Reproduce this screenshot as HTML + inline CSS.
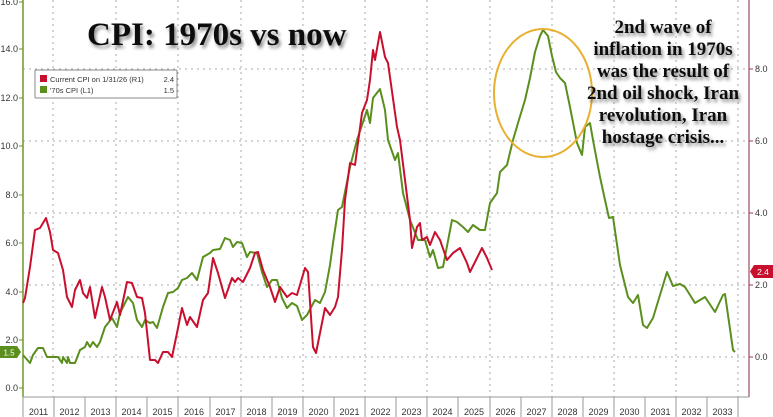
<!DOCTYPE html>
<html><head><meta charset="utf-8"><style>
html,body{margin:0;padding:0;background:#fff;}
svg{display:block;}
.t{font-family:"Liberation Sans",sans-serif;font-size:9px;fill:#333;}
.big{font-family:"Liberation Serif",serif;font-weight:bold;}
</style></head><body>
<svg width="773" height="417" viewBox="0 0 773 417" xmlns="http://www.w3.org/2000/svg">
<defs><filter id="sh" x="-10%" y="-10%" width="130%" height="140%"><feDropShadow dx="2" dy="3" stdDeviation="1.6" flood-color="#000" flood-opacity="0.45"/></filter></defs>
<rect width="773" height="417" fill="#fff"/>
<g stroke="#aaa" stroke-width="1" stroke-dasharray="2,4" fill="none">
<line x1="23" y1="69" x2="749" y2="69"/><line x1="23" y1="141" x2="749" y2="141"/><line x1="23" y1="213" x2="749" y2="213"/><line x1="23" y1="285" x2="749" y2="285"/><line x1="23" y1="357" x2="749" y2="357"/>
<line x1="53" y1="0" x2="53" y2="397"/><line x1="116" y1="0" x2="116" y2="397"/><line x1="178" y1="0" x2="178" y2="397"/><line x1="241" y1="0" x2="241" y2="397"/><line x1="303" y1="0" x2="303" y2="397"/><line x1="365" y1="0" x2="365" y2="397"/><line x1="427" y1="0" x2="427" y2="397"/><line x1="490" y1="0" x2="490" y2="397"/><line x1="552" y1="0" x2="552" y2="397"/><line x1="614" y1="0" x2="614" y2="397"/><line x1="676" y1="0" x2="676" y2="397"/><line x1="738" y1="0" x2="738" y2="397"/>
</g>
<!-- axes -->
<line x1="23" y1="0" x2="23" y2="397" stroke="#6a9a2a" stroke-width="1.5"/>
<line x1="749" y1="0" x2="749" y2="397" stroke="#b07080" stroke-width="1.5"/>
<line x1="23" y1="397" x2="749" y2="397" stroke="#999" stroke-width="1"/>
<g stroke="#6a9a2a" stroke-width="1"><line x1="19" y1="2" x2="23" y2="2"/><line x1="19" y1="49" x2="23" y2="49"/><line x1="19" y1="98" x2="23" y2="98"/><line x1="19" y1="146" x2="23" y2="146"/><line x1="19" y1="195" x2="23" y2="195"/><line x1="19" y1="243" x2="23" y2="243"/><line x1="19" y1="292" x2="23" y2="292"/><line x1="19" y1="340" x2="23" y2="340"/><line x1="19" y1="388" x2="23" y2="388"/></g>
<g stroke="#b03050" stroke-width="1"><line x1="749" y1="69" x2="753" y2="69"/><line x1="749" y1="141" x2="753" y2="141"/><line x1="749" y1="213" x2="753" y2="213"/><line x1="749" y1="285" x2="753" y2="285"/><line x1="749" y1="357" x2="753" y2="357"/></g>
<g class="t" text-anchor="end">
<text x="18" y="5">16.0</text><text x="18" y="52">14.0</text><text x="18" y="101">12.0</text><text x="18" y="149">10.0</text><text x="18" y="198">8.0</text><text x="18" y="246">6.0</text><text x="18" y="295">4.0</text><text x="18" y="343">2.0</text><text x="18" y="391">0.0</text>
</g>
<g class="t"><text x="755" y="72">8.0</text><text x="755" y="144">6.0</text><text x="755" y="216">4.0</text><text x="755" y="288">2.0</text><text x="755" y="360">0.0</text></g>
<g stroke="#999" stroke-width="1">
<line x1="23" y1="397" x2="23" y2="417"/><line x1="54" y1="397" x2="54" y2="417"/><line x1="85" y1="397" x2="85" y2="417"/><line x1="116" y1="397" x2="116" y2="417"/><line x1="147" y1="397" x2="147" y2="417"/><line x1="178" y1="397" x2="178" y2="417"/><line x1="210" y1="397" x2="210" y2="417"/><line x1="241" y1="397" x2="241" y2="417"/><line x1="272" y1="397" x2="272" y2="417"/><line x1="303" y1="397" x2="303" y2="417"/><line x1="334" y1="397" x2="334" y2="417"/><line x1="365" y1="397" x2="365" y2="417"/><line x1="396" y1="397" x2="396" y2="417"/><line x1="427" y1="397" x2="427" y2="417"/><line x1="458" y1="397" x2="458" y2="417"/><line x1="490" y1="397" x2="490" y2="417"/><line x1="521" y1="397" x2="521" y2="417"/><line x1="552" y1="397" x2="552" y2="417"/><line x1="583" y1="397" x2="583" y2="417"/><line x1="614" y1="397" x2="614" y2="417"/><line x1="645" y1="397" x2="645" y2="417"/><line x1="676" y1="397" x2="676" y2="417"/><line x1="707" y1="397" x2="707" y2="417"/><line x1="738" y1="397" x2="738" y2="417"/>
</g>
<g class="t" text-anchor="middle">
<text x="38.5" y="415">2011</text><text x="69.5" y="415">2012</text><text x="100.5" y="415">2013</text><text x="131.5" y="415">2014</text><text x="162.5" y="415">2015</text><text x="194" y="415">2016</text><text x="225.5" y="415">2017</text><text x="256.5" y="415">2018</text><text x="287.5" y="415">2019</text><text x="318.5" y="415">2020</text><text x="349.5" y="415">2021</text><text x="380.5" y="415">2022</text><text x="411.5" y="415">2023</text><text x="442.5" y="415">2024</text><text x="474" y="415">2025</text><text x="505.5" y="415">2026</text><text x="536.5" y="415">2027</text><text x="567.5" y="415">2028</text><text x="598.5" y="415">2029</text><text x="629.5" y="415">2030</text><text x="660.5" y="415">2031</text><text x="691.5" y="415">2032</text><text x="722.5" y="415">2033</text>
</g>
<!-- green series -->
<polyline fill="none" stroke="#5a8f1e" stroke-width="2" stroke-linejoin="round" points="23,355 30,363 33,355 38,348 43,348 47,357 58,357 62,363 63,357 67,363 68,357 70,363 75,363 80,350 85,347 87,342 90,347 93,342 97,347 100,342 105,327 112,318 117,327 120,313 125,303 128,297 133,303 137,320 142,327 145,320 150,323 153,322 157,328 163,307 168,293 173,292 178,288 182,280 187,278 192,273 197,280 203,257 210,253 213,250 220,249 225,238 230,240 233,247 237,242 242,243 247,257 250,252 257,253 262,272 267,287 272,280 277,280 282,298 287,308 292,303 297,306 302,320 307,315 315,300 320,303 325,292 330,265 333,243 338,210 342,207 350,167 357,140 367,110 370,123 373,98 380,89 385,110 388,140 395,160 398,153 403,193 410,220 418,240 425,240 430,257 433,250 438,268 443,267 452,220 457,222 463,227 468,232 473,225 480,230 485,230 490,203 497,193 500,172 507,165 513,140 518,123 525,100 530,78 535,52 540,36 543,30 548,36 552,56 556,72 560,78 565,83 570,107 577,143 582,155 585,127 590,123 593,140 600,177 605,200 609,218 613,217 620,265 628,297 633,303 638,295 643,325 647,328 653,318 667,272 673,286 680,284 685,287 695,303 705,297 715,312 723,295 725,294 733,350 735,352"/>
<!-- red series -->
<polyline fill="none" stroke="#c8102e" stroke-width="2" stroke-linejoin="round" points="23,303 25,298 30,267 35,230 40,228 46,218 50,232 53,250 58,253 63,270 67,297 72,307 75,290 80,280 83,293 87,298 90,287 95,318 102,287 105,297 110,320 117,302 120,315 127,282 132,283 137,297 142,298 145,313 150,360 155,360 158,363 163,352 168,352 172,357 177,333 182,308 187,325 190,317 197,327 203,300 208,293 213,258 218,273 225,298 232,278 235,282 238,278 243,282 250,268 255,253 258,252 263,270 270,287 275,302 280,287 287,297 292,293 297,295 305,268 308,272 313,347 316,353 320,333 325,308 330,315 335,307 338,297 342,250 345,200 350,163 355,165 362,113 367,100 370,80 373,50 375,60 380,32 385,57 388,63 397,127 400,140 405,180 410,220 412,248 417,227 420,223 422,240 427,237 430,245 435,232 440,240 447,260 453,253 460,248 467,263 470,272 475,262 482,248 487,258 492,270"/>
<!-- ellipse -->
<ellipse cx="543" cy="93" rx="49" ry="64" fill="none" stroke="#e8b030" stroke-width="2"/>
<!-- legend -->
<rect x="35" y="70" width="142" height="28" fill="#fff" stroke="#888" stroke-width="1" rx="1"/>
<rect x="40" y="75" width="7" height="7" fill="#c8102e"/>
<rect x="40" y="86" width="7" height="7" fill="#5a8f1e"/>
<text class="t" x="50" y="82" style="font-size:7.5px">Current CPI on 1/31/26 (R1)</text>
<text class="t" x="174" y="82" text-anchor="end" style="font-size:7.5px">2.4</text>
<text class="t" x="50" y="93" style="font-size:7.5px">'70s CPI (L1)</text>
<text class="t" x="174" y="93" text-anchor="end" style="font-size:7.5px">1.5</text>
<!-- badges -->
<polygon points="0,346 17,346 21,352 17,358 0,358" fill="#5a8f1e"/>
<text x="9" y="355.5" font-family="Liberation Sans,sans-serif" font-size="8" fill="#fff" text-anchor="middle">1.5</text>
<polygon points="754,265 773,265 773,278 754,278 750,271.5" fill="#c8102e"/>
<text x="763" y="275" font-family="Liberation Sans,sans-serif" font-size="8.5" fill="#fff" text-anchor="middle">2.4</text>
<!-- title -->
<text class="big" x="87" y="45" font-size="33" fill="#111" filter="url(#sh)">CPI: 1970s vs now</text>
<g class="big" font-size="19" fill="#111" text-anchor="middle" filter="url(#sh)">
<text x="663" y="33">2nd wave of</text>
<text x="663" y="55">inflation in 1970s</text>
<text x="663" y="77">was the result of</text>
<text x="663" y="99">2nd oil shock, Iran</text>
<text x="663" y="121">revolution, Iran</text>
<text x="663" y="143">hostage crisis...</text>
</g>
</svg>
</body></html>
